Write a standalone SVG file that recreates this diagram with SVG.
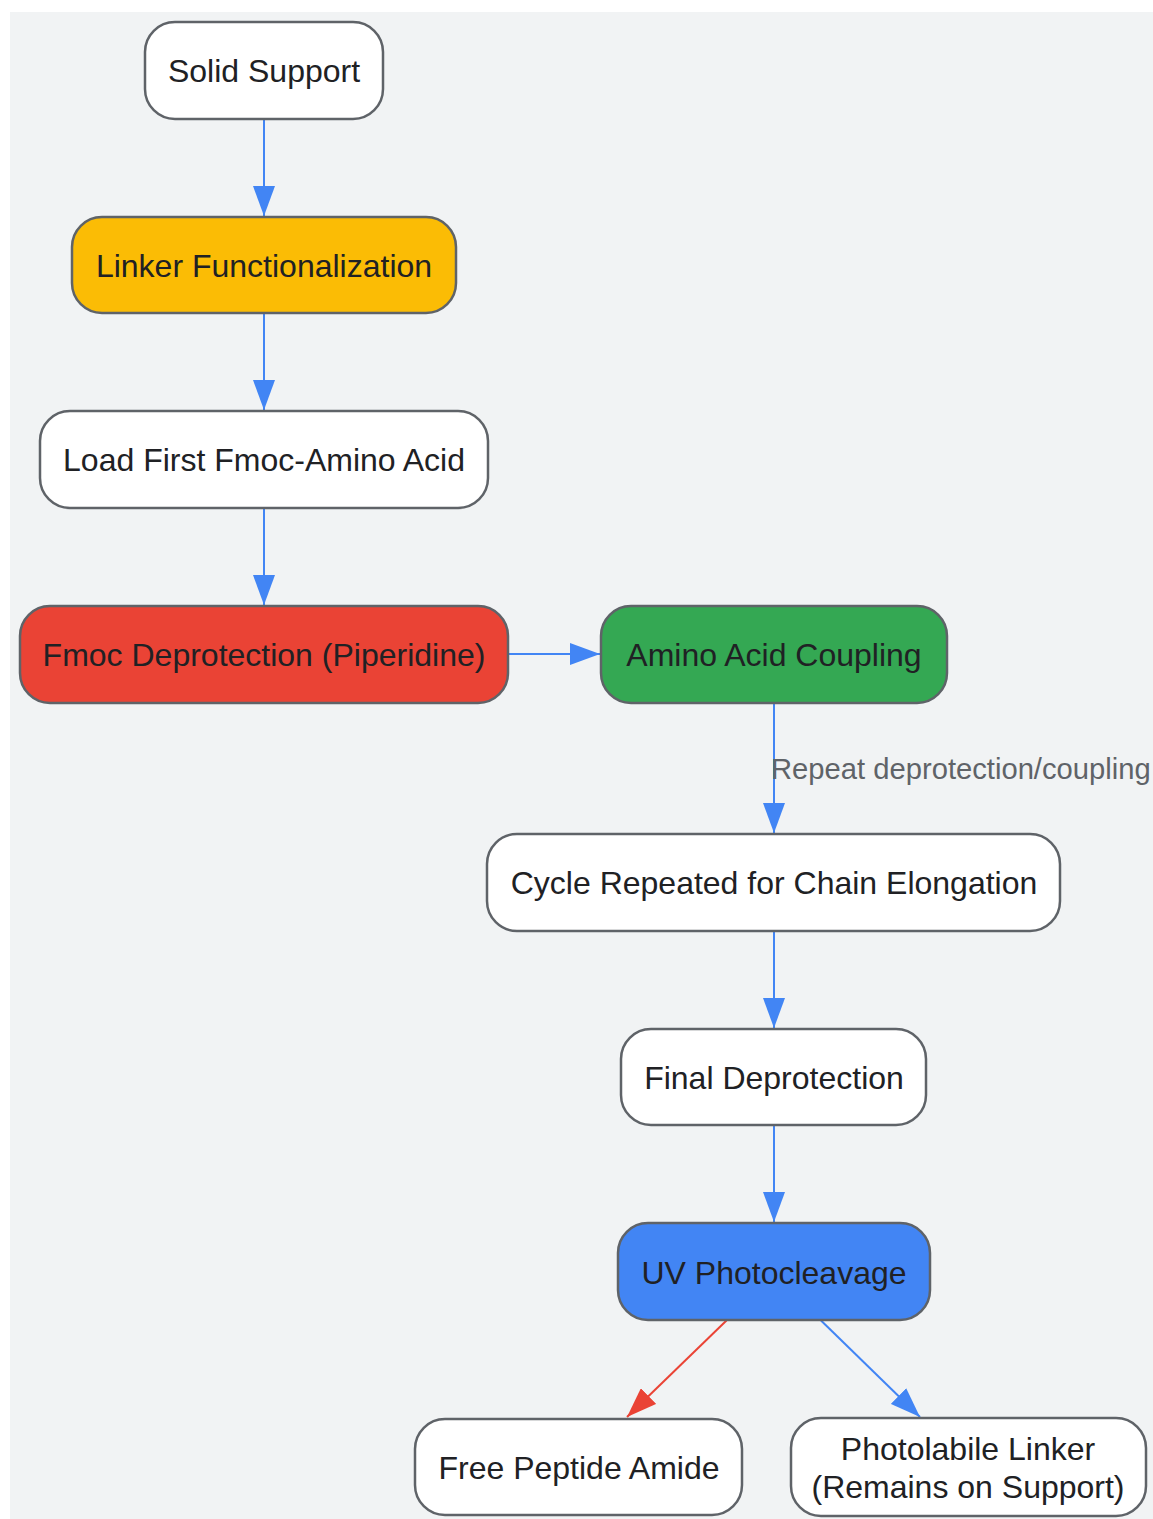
<svg xmlns="http://www.w3.org/2000/svg" width="1153" height="1519" viewBox="0 0 1153 1519">
<defs>
<style>
.n rect{stroke:#5f6368;stroke-width:2.5}
.n text{font-family:"Liberation Sans",Arial,sans-serif;font-size:32px;fill:#202124;text-anchor:middle}
.e{stroke:#4285f4;stroke-width:2;fill:none}
.er{stroke:#ea4335;stroke-width:2;fill:none}
.lbl{font-family:"Liberation Sans",Arial,sans-serif;font-size:29.2px;fill:#5f6368}
</style>
<marker id="ab" viewBox="0 0 30 22" refX="30" refY="11" markerWidth="30" markerHeight="22" markerUnits="userSpaceOnUse" orient="auto"><path d="M0,0 L30,11 L0,22 Z" fill="#4285f4"/></marker>
<marker id="ar" viewBox="0 0 30 22" refX="30" refY="11" markerWidth="30" markerHeight="22" markerUnits="userSpaceOnUse" orient="auto"><path d="M0,0 L30,11 L0,22 Z" fill="#ea4335"/></marker>
</defs>
<rect x="10" y="12" width="1143" height="1507" fill="#f1f3f4"/>
<g id="edges">
<line class="e" x1="264" y1="119" x2="264" y2="216" marker-end="url(#ab)"/>
<line class="e" x1="264" y1="313" x2="264" y2="410" marker-end="url(#ab)"/>
<line class="e" x1="264" y1="508" x2="264" y2="605" marker-end="url(#ab)"/>
<line class="e" x1="508" y1="654" x2="600" y2="654" marker-end="url(#ab)"/>
<line class="e" x1="774" y1="703" x2="774" y2="833" marker-end="url(#ab)"/>
<text class="lbl" x="771" y="779">Repeat deprotection/coupling</text>
<line class="e" x1="774" y1="931" x2="774" y2="1028" marker-end="url(#ab)"/>
<line class="e" x1="774" y1="1125" x2="774" y2="1222" marker-end="url(#ab)"/>
<line class="er" x1="726.5" y1="1320.5" x2="627" y2="1417" marker-end="url(#ar)"/>
<line class="e" x1="821" y1="1320.5" x2="920" y2="1417" marker-end="url(#ab)"/>
</g>
<g id="n1" class="n"><rect x="145" y="22" width="238" height="97" rx="30" fill="#ffffff"/><text x="264" y="82">Solid Support</text></g>
<g id="n2" class="n"><rect x="72" y="217" width="384" height="96" rx="30" fill="#fbbc05"/><text x="264" y="277">Linker Functionalization</text></g>
<g id="n3" class="n"><rect x="40" y="411" width="448" height="97" rx="30" fill="#ffffff"/><text x="264" y="471">Load First Fmoc-Amino Acid</text></g>
<g id="n4" class="n"><rect x="20" y="606" width="488" height="97" rx="30" fill="#ea4335"/><text x="264" y="666">Fmoc Deprotection (Piperidine)</text></g>
<g id="n5" class="n"><rect x="601" y="606" width="346" height="97" rx="30" fill="#34a853"/><text x="774" y="666">Amino Acid Coupling</text></g>
<g id="n6" class="n"><rect x="487" y="834" width="573" height="97" rx="30" fill="#ffffff"/><text x="774" y="894">Cycle Repeated for Chain Elongation</text></g>
<g id="n7" class="n"><rect x="621" y="1029" width="305" height="96" rx="30" fill="#ffffff"/><text x="774" y="1089">Final Deprotection</text></g>
<g id="n8" class="n"><rect x="618" y="1223" width="312" height="97" rx="30" fill="#4285f4"/><text x="774" y="1284">UV Photocleavage</text></g>
<g id="n9" class="n"><rect x="415" y="1419" width="327" height="96" rx="30" fill="#ffffff"/><text x="579" y="1479">Free Peptide Amide</text></g>
<g id="n10" class="n"><rect x="791" y="1418" width="355" height="98" rx="30" fill="#ffffff"/><text x="968" y="1460">Photolabile Linker</text><text x="968" y="1498">(Remains on Support)</text></g>
</svg>
